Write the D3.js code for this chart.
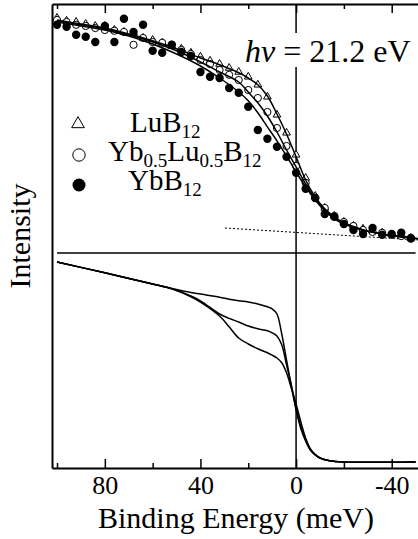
<!DOCTYPE html>
<html>
<head>
<meta charset="utf-8">
<script src="https://cdnjs.cloudflare.com/ajax/libs/d3/7.8.5/d3.min.js"></script>
<style>
body { margin: 0; background: #fff; }
svg { display: block; }
svg text { font-family: "Liberation Serif", "Times New Roman", "DejaVu Serif", serif; }
</style>
</head>
<body>
<svg id="chart" width="418" height="539"></svg>
<script>
// ---- data (binding energy in meV, intensity in arb. units) ----
var majorTicks = [80, 40, 0, -40];
var tickLabels = ["80", "40", "0", "-40"];
var minorTicks = [100, 60, 20, -20];

// photoemission points, every 4 meV
var pointEnergy = [100, 96, 92, 88, 84, 80, 76, 72, 68, 64, 60, 56, 52, 48, 44, 40, 36, 32, 28, 24,
	20, 16, 12, 8, 4, 0, -4, -8, -12, -16, -20, -24, -28, -32, -36, -40, -44, -48];
var luPoints = [112.5, 111.8, 111.5, 111, 110.5, 110.5, 109.5, 109, 108.8, 107.5, 107, 106.3, 105.5, 104.8, 103.8, 102.8, 101.8, 101, 100, 99,
	97.8, 95.8, 92.8, 88.3, 83.8, 78.3, 72.5, 68, 65, 63, 61.5, 60.5, 59.8, 59.3, 58.8, 58.3, 58, 57.5];
var mixPoints = [112, 111.5, 110.8, 110.5, 110, 109.5, 109.3, 109, 105.8, 107.5, 106.5, 106.3, 105.8, 104.5, 103.5, 102, 101, 99.5, 98.3, 97,
	94.5, 92.5, 89, 85, 80.5, 75.5, 71.3, 67.5, 65, 63, 61.5, 60.5, 59.5, 59, 58.8, 58.3, 58, 57.3];
var ybPoints = [110.8, 110.3, 108.3, 107.8, 106.5, 110.5, 106.5, 112.3, 109, 110.8, 104.3, 103.8, 105.8, 104, 103, 99, 97.8, 97.5, 95, 93.8,
	90.3, 84.5, 82.3, 80.3, 77.8, 73.8, 69.8, 67.5, 63.5, 62.8, 61, 59.5, 58.5, 60, 58.3, 58.5, 58.8, 57.5];

// fitted curves (upper panel)
var fitEnergy = [100, 90, 80, 70, 60, 50, 40, 32, 24, 20, 16, 12, 8, 4, 0, -4, -8, -12, -16, -20, -28, -36, -51];
var luFit = [112, 111, 110, 108.5, 106.8, 104.8, 102.5, 100.8, 98.8, 97.5, 95.8, 93, 88.5, 83.5, 77.8, 72, 67.8, 64.8, 62.8, 61.3, 59.5, 58.5, 57.3];
var mixFit = [111.8, 110.8, 109.8, 108.3, 106.5, 104.3, 101.5, 99, 96.5, 94, 91.3, 88, 84, 79.5, 75.3, 71, 67.3, 64.5, 62.5, 61.3, 59.5, 58.5, 57.3];
var ybFit = [111.5, 110.5, 109.5, 108, 106, 103.5, 100.5, 97.5, 94, 91.8, 88.8, 85.3, 81.8, 78, 74, 70.3, 67, 64.3, 62.3, 61, 59.5, 58.5, 57.3];

// background (dotted)
var bgEnergy = [29.7, -51];
var bgValue = [60, 57];

// model spectra (lower panel)
var dosEnergy = [100, 80, 60, 52, 44, 40, 32, 28, 24, 20, 16, 12, 10, 8, 6, 4, 2, 0, -2, -4, -6, -8, -10, -14, -20, -50];
var luDos = [51.5, 48.8, 46, 44.9, 43.9, 43.5, 42.7, 42.2, 41.8, 41.5, 41, 40.3, 39.8, 38.5, 33.5, 27, 20.5, 14.5, 9.8, 6.8, 4.5, 3.3, 2.5, 1.8, 1.5, 1.5];
var mixDos = [51.5, 48.8, 46, 44.8, 43, 41.8, 38.5, 37.4, 36.5, 35.5, 34.8, 34.3, 33.8, 33, 30.8, 25.8, 20.8, 15, 10.3, 6.8, 4.5, 3.3, 2.5, 1.8, 1.5, 1.5];
var ybDos = [51.5, 48.8, 46, 44.8, 42.8, 41.5, 38, 35.3, 32.5, 31, 29.8, 28.8, 28.2, 27.5, 26.3, 23.8, 20, 16, 11.5, 7.5, 4.8, 3.4, 2.5, 1.8, 1.5, 1.5];

var panelSplit = 53.75;
var splitRange = [100, -50];

// ---- drawing ----
var serif = "Liberation Serif, Times New Roman, DejaVu Serif, serif";
var svg = d3.select("#chart");
var x = d3.scaleLinear().domain([102.1, -51]).range([52, 418]);
var y = d3.scaleLinear().domain([0, 116]).range([468, 4]);

function pairs(ex, vals) {
	return ex.map(function(e, i) { return [e, vals[i]]; });
}

var line = d3.line()
	.x(function(d) { return x(d[0]); })
	.y(function(d) { return y(d[1]); })
	.curve(d3.curveCatmullRom);

// frame + ticks
var bottomAxis = svg.append("g")
	.attr("transform", "translate(0,468)")
	.call(d3.axisBottom(x).tickValues(majorTicks).tickSize(-9).tickSizeOuter(0).tickPadding(8)
		.tickFormat(function(d, i) { return tickLabels[i]; }));
svg.append("g")
	.attr("transform", "translate(0,468)")
	.call(d3.axisBottom(x).tickValues(minorTicks).tickSize(-5).tickFormat(""))
	.select(".domain").remove();
svg.append("g")
	.attr("transform", "translate(0,4)")
	.call(d3.axisTop(x).tickValues(majorTicks).tickSize(-9).tickSizeOuter(0).tickFormat(""));
svg.append("g")
	.attr("transform", "translate(0,4)")
	.call(d3.axisTop(x).tickValues(minorTicks).tickSize(-5).tickFormat(""))
	.select(".domain").remove();
svg.append("g")
	.attr("transform", "translate(52,0)")
	.call(d3.axisLeft(y).tickValues([]).tickSizeOuter(0));

svg.selectAll(".domain").attr("stroke-width", 2);
svg.selectAll(".tick line").attr("stroke-width", 1.5);
bottomAxis.attr("font-family", serif).attr("font-size", 26);
bottomAxis.selectAll("text")
	.attr("font-family", serif)
	.attr("font-size", 26)
	.attr("fill", "#000");

// E = 0 line and panel separator
svg.append("line")
	.attr("x1", x(0)).attr("x2", x(0))
	.attr("y1", y(116)).attr("y2", y(0))
	.attr("stroke", "#000").attr("stroke-width", 1.5);
svg.append("line")
	.attr("x1", x(splitRange[0])).attr("x2", x(splitRange[1]))
	.attr("y1", y(panelSplit)).attr("y2", y(panelSplit))
	.attr("stroke", "#000").attr("stroke-width", 1.5);

// photon energy label
svg.append("rect")
	.attr("x", 240).attr("y", 33).attr("width", 178).attr("height", 34)
	.attr("fill", "#fff");
var hv = svg.append("text")
	.attr("x", 245).attr("y", 62)
	.attr("font-family", serif)
	.attr("font-size", 32);
hv.append("tspan").attr("font-style", "italic").text("hν");
hv.append("tspan").text(" = 21.2 eV");

// dotted background
svg.append("path")
	.datum(pairs(bgEnergy, bgValue))
	.attr("d", line)
	.attr("fill", "none")
	.attr("stroke", "#000")
	.attr("stroke-width", 1)
	.attr("stroke-dasharray", "2,2");

// markers
var tri = d3.symbol().type(d3.symbolTriangle).size(26);
svg.append("g").selectAll("path")
	.data(pairs(pointEnergy, luPoints))
	.join("path")
	.attr("transform", function(d) { return "translate(" + x(d[0]) + "," + y(d[1]) + ")"; })
	.attr("d", tri)
	.attr("fill", "#fff")
	.attr("stroke", "#000")
	.attr("stroke-width", 1);
svg.append("g").selectAll("circle")
	.data(pairs(pointEnergy, mixPoints))
	.join("circle")
	.attr("cx", function(d) { return x(d[0]); })
	.attr("cy", function(d) { return y(d[1]); })
	.attr("r", 3.6)
	.attr("fill", "#fff")
	.attr("stroke", "#000")
	.attr("stroke-width", 1);
svg.append("g").selectAll("circle")
	.data(pairs(pointEnergy, ybPoints))
	.join("circle")
	.attr("cx", function(d) { return x(d[0]); })
	.attr("cy", function(d) { return y(d[1]); })
	.attr("r", 4.2)
	.attr("fill", "#000");

// curves
[luFit, mixFit, ybFit].forEach(function(vals) {
	svg.append("path")
		.datum(pairs(fitEnergy, vals))
		.attr("d", line)
		.attr("fill", "none")
		.attr("stroke", "#000")
		.attr("stroke-width", 1.5);
});
[luDos, mixDos, ybDos].forEach(function(vals) {
	svg.append("path")
		.datum(pairs(dosEnergy, vals))
		.attr("d", line)
		.attr("fill", "none")
		.attr("stroke", "#000")
		.attr("stroke-width", 1.5);
});

// legend
var leg = svg.append("g").attr("font-family", serif);
leg.append("path")
	.attr("transform", "translate(78,124)")
	.attr("d", d3.symbol().type(d3.symbolTriangle).size(70))
	.attr("fill", "#fff").attr("stroke", "#000").attr("stroke-width", 1);
leg.append("circle").attr("cx", 79).attr("cy", 155).attr("r", 6.2)
	.attr("fill", "#fff").attr("stroke", "#000").attr("stroke-width", 1);
leg.append("circle").attr("cx", 79).attr("cy", 185).attr("r", 6.5)
	.attr("fill", "#000");

var t1 = leg.append("text").attr("x", 130).attr("y", 132).attr("font-size", 29);
t1.append("tspan").text("LuB");
t1.append("tspan").attr("font-size", 19).attr("dy", 6).text("12");

var t2 = leg.append("text").attr("x", 108).attr("y", 161).attr("font-size", 29);
t2.append("tspan").text("Yb");
t2.append("tspan").attr("font-size", 19).attr("dy", 6).text("0.5");
t2.append("tspan").attr("dy", -6).text("Lu");
t2.append("tspan").attr("font-size", 19).attr("dy", 6).text("0.5");
t2.append("tspan").attr("dy", -6).text("B");
t2.append("tspan").attr("font-size", 19).attr("dy", 6).text("12");

var t3 = leg.append("text").attr("x", 128).attr("y", 190).attr("font-size", 29);
t3.append("tspan").text("YbB");
t3.append("tspan").attr("font-size", 19).attr("dy", 6).text("12");

// axis titles
svg.append("text")
	.attr("x", 236).attr("y", 528)
	.attr("text-anchor", "middle")
	.attr("font-family", serif)
	.attr("font-size", 30)
	.text("Binding Energy (meV)");
svg.append("text")
	.attr("transform", "translate(30,236) rotate(-90)")
	.attr("text-anchor", "middle")
	.attr("font-family", serif)
	.attr("font-size", 30)
	.text("Intensity");
</script>
</body>
</html>
